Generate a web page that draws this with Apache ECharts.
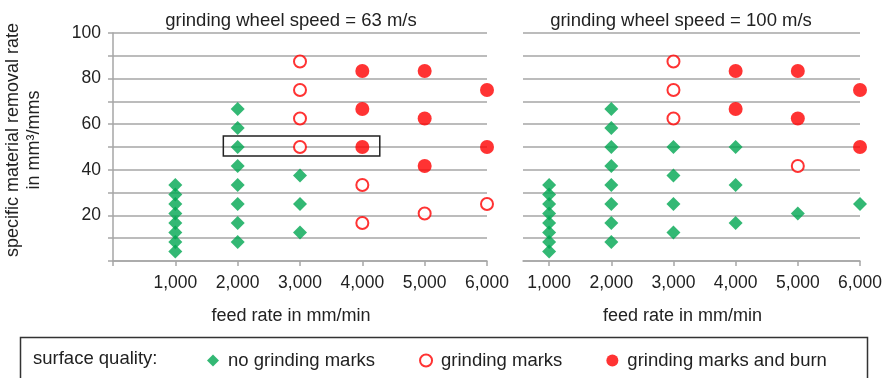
<!DOCTYPE html>
<html>
<head>
<meta charset="utf-8">
<script src="https://cdn.jsdelivr.net/npm/echarts@6/dist/echarts.min.js"></script>
<style>
  html, body { margin: 0; padding: 0; background: #fff; }
  #chart { width: 886px; height: 378px; }
</style>
</head>
<body>
<div id="chart"></div>
<script>
// Feed-rate tick labels and removal-rate tick labels
const feedTicks = [1000, 2000, 3000, 4000, 5000, 6000];
const rateTicks = [20, 40, 60, 80, 100];

// Grinding wheel speed 63 m/s: [feed rate mm/min, specific removal rate mm³/mms]
const noMarks63 = [
  [1000, 4.17], [1000, 8.33], [1000, 12.5], [1000, 16.67], [1000, 20.83], [1000, 25], [1000, 29.17], [1000, 33.33],
  [2000, 8.33], [2000, 16.67], [2000, 25], [2000, 33.33], [2000, 41.67], [2000, 50], [2000, 58.33], [2000, 66.67],
  [3000, 12.5], [3000, 25], [3000, 37.5]
];
const marks63 = [
  [3000, 50], [3000, 62.5], [3000, 75], [3000, 87.5],
  [4000, 16.67], [4000, 33.33],
  [5000, 20.83],
  [6000, 25]
];
const burn63 = [
  [4000, 50], [4000, 66.67], [4000, 83.33],
  [5000, 41.67], [5000, 62.5], [5000, 83.33],
  [6000, 50], [6000, 75]
];

// Grinding wheel speed 100 m/s
const noMarks100 = [
  [1000, 4.17], [1000, 8.33], [1000, 12.5], [1000, 16.67], [1000, 20.83], [1000, 25], [1000, 29.17], [1000, 33.33],
  [2000, 8.33], [2000, 16.67], [2000, 25], [2000, 33.33], [2000, 41.67], [2000, 50], [2000, 58.33], [2000, 66.67],
  [3000, 12.5], [3000, 25], [3000, 37.5], [3000, 50],
  [4000, 16.67], [4000, 33.33], [4000, 50],
  [5000, 20.83],
  [6000, 25]
];
const marks100 = [
  [3000, 62.5], [3000, 75], [3000, 87.5],
  [5000, 41.67]
];
const burn100 = [
  [4000, 66.67], [4000, 83.33],
  [5000, 62.5], [5000, 83.33],
  [6000, 50], [6000, 75]
];

// Highlighted operating window in the 63 m/s panel (feed rate, removal rate corners)
const highlightBox = [[1770, 46], [4280, 54.8]];

const names = ['no grinding marks', 'grinding marks', 'grinding marks and burn'];

const FONT = 'Liberation Sans, Arial, sans-serif';
const TEXT = '#222';
const GRID_GRAY = '#a6a6a6';
const GREEN = '#00a651';
const RED = '#ff0000';

function xAxisFor(gridIndex, min) {
  return {
    type: 'value', gridIndex, min, max: 6000,
    axisLine: { show: true, lineStyle: { color: GRID_GRAY, width: 1.5 } },
    axisTick: { show: true, length: 5, customValues: (min === 0 ? [0] : []).concat(feedTicks),
                lineStyle: { color: GRID_GRAY, width: 1.5 } },
    axisLabel: {
      customValues: feedTicks, margin: 13, color: TEXT, fontFamily: FONT, fontSize: 17.5,
      formatter: v => v.toLocaleString('en-US')
    },
    splitLine: { show: false },
    name: 'feed rate in mm/min', nameLocation: 'middle', nameGap: 46,
    nameTextStyle: { color: TEXT, fontFamily: FONT, fontSize: 18, padding: [0, 18, 0, 0] }
  };
}

function yAxisFor(gridIndex, showAxis) {
  const axis = {
    type: 'value', gridIndex, min: 0, max: 100, interval: 10,
    axisLine: { show: showAxis, lineStyle: { color: GRID_GRAY, width: 1.5 } },
    axisTick: { show: showAxis, length: 5, lineStyle: { color: GRID_GRAY, width: 1.5 } },
    axisLabel: {
      show: showAxis, customValues: rateTicks, margin: 12,
      color: TEXT, fontFamily: FONT, fontSize: 17.5
    },
    splitLine: { show: true, lineStyle: { color: GRID_GRAY, width: 1.5 } }
  };
  if (showAxis) {
    axis.name = 'specific material removal rate\nin mm³/mms';
    axis.nameLocation = 'middle';
    axis.nameRotate = 90;
    axis.nameGap = 68;
    axis.nameTextStyle = { color: TEXT, fontFamily: FONT, fontSize: 18, lineHeight: 21, padding: [0, 0, 0, 14] };
  }
  return axis;
}

function pointSeries(name, data, idx, kind) {
  const s = { name, type: 'scatter', xAxisIndex: idx, yAxisIndex: idx, data, clip: false, z: 3 };
  if (kind === 0) {
    s.symbol = 'diamond'; s.symbolSize = 14;
    s.itemStyle = { color: GREEN };
  } else if (kind === 1) {
    s.symbol = 'circle'; s.symbolSize = 12;
    s.itemStyle = { color: '#fff', borderColor: RED, borderWidth: 2 };
  } else {
    s.symbol = 'circle'; s.symbolSize = 14;
    s.itemStyle = { color: RED };
  }
  return s;
}

const series = [
  pointSeries(names[0], noMarks63, 0, 0),
  pointSeries(names[1], marks63, 0, 1),
  pointSeries(names[2], burn63, 0, 2),
  pointSeries(names[0], noMarks100, 1, 0),
  pointSeries(names[1], marks100, 1, 1),
  pointSeries(names[2], burn100, 1, 2)
];

// Black frame around the highlighted window
series.push({
  type: 'scatter', xAxisIndex: 0, yAxisIndex: 0, data: [], silent: true,
  markArea: {
    silent: true,
    itemStyle: { color: 'rgba(0,0,0,0)', borderColor: '#222', borderWidth: 1.5 },
    data: [[{ coord: highlightBox[0] }, { coord: highlightBox[1] }]]
  }
});

const chart = echarts.init(document.getElementById('chart'), null, { renderer: 'canvas' });
chart.setOption({
  animation: false,
  backgroundColor: '#fff',
  title: [
    { text: 'grinding wheel speed = 63 m/s', left: 286, top: 6, textAlign: 'center',
      textStyle: { color: TEXT, fontFamily: FONT, fontSize: 18.5, fontWeight: 'normal' } },
    { text: 'grinding wheel speed = 100 m/s', left: 676, top: 6, textAlign: 'center',
      textStyle: { color: TEXT, fontFamily: FONT, fontSize: 18.5, fontWeight: 'normal' } }
  ],
  grid: [
    { left: 113, width: 374, top: 33, height: 228 },
    { left: 523, width: 337, top: 33, height: 228 }
  ],
  xAxis: [xAxisFor(0, 0), xAxisFor(1, 580)],
  yAxis: [yAxisFor(0, true), yAxisFor(1, false)],
  legend: {
    data: names, left: 202, top: 346, itemWidth: 12, itemHeight: 12, itemGap: 44,
    textStyle: { color: TEXT, fontFamily: FONT, fontSize: 18.5, padding: [0, 0, 0, 4] }
  },
  graphic: [
    { type: 'rect', shape: { x: 20.5, y: 337.5, width: 847, height: 60 },
      style: { fill: 'none', stroke: '#333', lineWidth: 1.5 }, silent: true },
    { type: 'text', left: 33, top: 349,
      style: { text: 'surface quality:', fill: TEXT, font: '18.5px ' + FONT } }
  ],
  series
});
</script>
</body>
</html>
